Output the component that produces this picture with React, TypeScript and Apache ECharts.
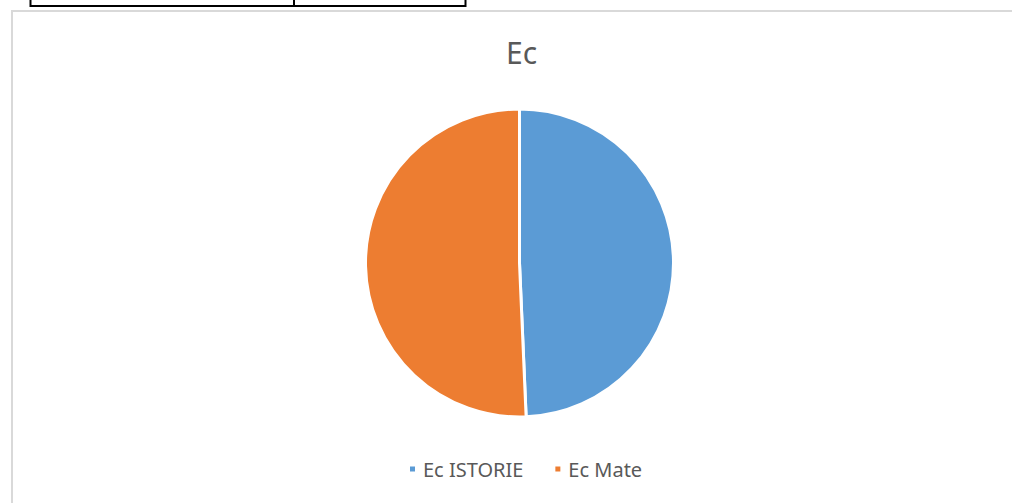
import React, { useEffect, useRef } from "react";
import * as echarts from "echarts";

const categories = ["Ec ISTORIE", "Ec Mate"];
const values = [36, 37];
const colors = ["#5b9bd5", "#ed7d31"];
const titleText = "Ec";

export default function App() {
  const ref = useRef<HTMLDivElement>(null);
  useEffect(() => {
    if (!ref.current) return;
    const chart = echarts.init(ref.current, null, { renderer: "svg" });
    chart.setOption({
      animation: false,
      backgroundColor: "#ffffff",
      title: {
        text: titleText,
        left: 501,
        top: 32,
        textStyle: {
          fontFamily: "Noto Sans",
          fontSize: 30,
          fontWeight: "normal",
          color: "#595959",
        },
      },
      legend: {
        data: categories,
        left: 403,
        top: 454,
        icon: "rect",
        itemWidth: 7,
        itemHeight: 7,
        itemGap: 30,
        textStyle: {
          fontFamily: "Noto Sans",
          fontSize: 20,
          color: "#595959",
          padding: [0, 0, 0, 2],
        },
      },
      graphic: [
        {
          type: "rect",
          shape: { x: 12, y: 11, width: 1100, height: 600 },
          style: { fill: "none", stroke: "#d9d9d9", lineWidth: 2 },
          silent: true,
        },
        {
          type: "polyline",
          shape: { points: [[30.5, -5], [30.5, 6], [465.5, 6], [465.5, -5]] },
          style: { fill: "none", stroke: "#000000", lineWidth: 2 },
          silent: true,
        },
        {
          type: "line",
          shape: { x1: 294, y1: -5, x2: 294, y2: 6 },
          style: { stroke: "#000000", lineWidth: 2 },
          silent: true,
        },
      ],
      series: [
        {
          type: "pie",
          center: [519.5, 263],
          radius: 154,
          startAngle: 90,
          clockwise: true,
          label: { show: false },
          labelLine: { show: false },
          itemStyle: { borderColor: "#ffffff", borderWidth: 3 },
          emphasis: { disabled: true },
          data: categories.map((c, i) => ({
            name: c,
            value: values[i],
            itemStyle: { color: colors[i] },
          })),
        },
      ],
    });
    return () => chart.dispose();
  }, []);
  return (
    <div
      ref={ref}
      style={{ position: "absolute", left: 0, top: 0, width: 1012, height: 503 }}
    />
  );
}
